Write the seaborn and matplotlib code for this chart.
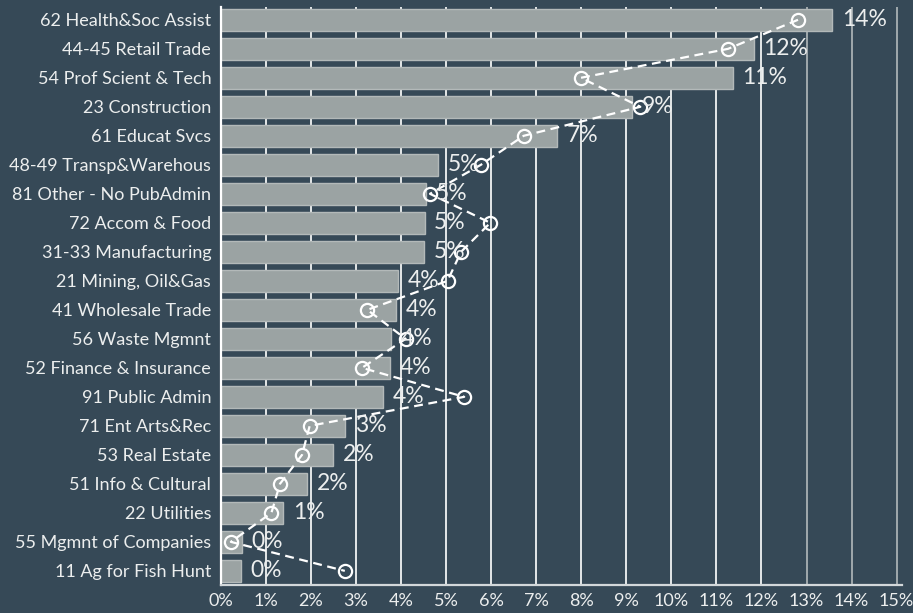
import numpy as np
import matplotlib
matplotlib.use("Agg")
import matplotlib.pyplot as plt
import seaborn as sns

# Data
industries = [
    "62 Health&Soc Assist", "44-45 Retail Trade", "54 Prof Scient & Tech",
    "23 Construction", "61 Educat Svcs", "48-49 Transp&Warehous",
    "81 Other - No PubAdmin", "72 Accom & Food", "31-33 Manufacturing",
    "21 Mining, Oil&Gas", "41 Wholesale Trade", "56 Waste Mgmnt",
    "52 Finance & Insurance", "91 Public Admin", "71 Ent Arts&Rec",
    "53 Real Estate", "51 Info & Cultural", "22 Utilities",
    "55 Mgmnt of Companies", "11 Ag for Fish Hunt",
]
bar_share = [13.57, 11.83, 11.36, 9.13, 7.47, 4.81, 4.55, 4.52, 4.51, 3.94,
             3.88, 3.77, 3.76, 3.59, 2.75, 2.48, 1.92, 1.38, 0.47, 0.44]
line_share = [12.81, 11.26, 7.99, 9.31, 6.72, 5.77, 4.64, 5.98, 5.33, 5.03,
              3.25, 4.10, 3.13, 5.40, 1.97, 1.80, 1.31, 1.12, 0.22, 2.75]
x_ticks = list(range(0, 16))

# Style
bg = "#364957"
bar_color = "#9ba3a3"
text_color = "#eceeee"

sns.set_theme(style="white")
plt.rcParams["font.family"] = ["Lato", "DejaVu Sans"]

fig, ax = plt.subplots(figsize=(9.13, 6.13), dpi=100)
fig.patch.set_facecolor(bg)
ax.set_facecolor(bg)
fig.subplots_adjust(left=0.242, right=0.988, bottom=0.046, top=0.989)

sns.barplot(x=bar_share, y=industries, orient="h", color=bar_color,
            saturation=1, width=0.76, edgecolor="#b3b9b9", linewidth=1,
            ax=ax, zorder=2)

ax.bar_label(ax.containers[0], labels=[f"{v:.0f}%" for v in bar_share],
             padding=7, fontsize=16.5, color=text_color, zorder=5)

ax.plot(line_share, np.arange(len(industries)), color="white", lw=1.6,
        ls=(0, (4, 2.5)), marker="o", ms=9.5, mfc="none", mec="white",
        mew=1.6, zorder=4)

ax.set_xlim(0, 15.12)
ax.set_ylim(19.48, -0.45)
ax.set_xticks(x_ticks)
ax.set_xticklabels([f"{t}%" for t in x_ticks])
ax.set_xlabel("")
ax.set_ylabel("")

# gridlines behind bars
ax.set_axisbelow(True)
for t in x_ticks[1:]:
    c = "#f2f4f4" if t <= 12 else "#a9b1b4"
    ax.axvline(t, color=c, lw=1.3, zorder=0)

ax.tick_params(axis="y", length=0, pad=7, labelsize=13, labelcolor=text_color)
ax.tick_params(axis="x", length=0, pad=6, labelsize=13, labelcolor=text_color)

for s in ["top", "right"]:
    ax.spines[s].set_visible(False)
ax.spines["left"].set_color("white")
ax.spines["left"].set_linewidth(1.6)
ax.spines["bottom"].set_color("#d3d8da")
ax.spines["bottom"].set_linewidth(1.6)

fig.savefig("out.png", dpi=100, facecolor=bg)
